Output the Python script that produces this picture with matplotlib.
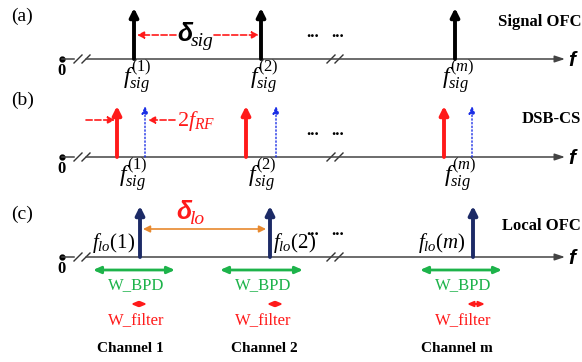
import numpy as np
import matplotlib.pyplot as plt

plt.rcParams['mathtext.fontset'] = 'custom'
plt.rcParams['mathtext.rm'] = 'Liberation Serif'
plt.rcParams['mathtext.it'] = 'Liberation Serif:italic'
plt.rcParams['mathtext.bf'] = 'Liberation Serif:bold'
plt.rcParams['font.family'] = 'Liberation Serif'

# comb line positions (pixel-like frequency axis), one per channel
channels = ['1', '2', 'm']
sig_lines = [134, 261, 455]          # (a) signal OFC
dsb_red = [117, 246, 444]            # (b) carrier-suppressed sidebands
dsb_blue = [145, 276, 472]
lo_lines = [140, 270, 473]           # (c) local OFC
bpd_span = [(93, 175), (220, 303), (420, 502)]
filt_span = [(131, 147), (267, 283), (467, 485)]
chan_centers = [130, 264, 457]

axis_y = [59, 157, 257]
top_y = [8, 106, 206]
panel_tags = ['(a)', '(b)', '(c)']
panel_tag_y = [16, 100, 214]
panel_names = ['Signal OFC', 'DSB-CS', 'Local OFC']
panel_name_y = [22, 119, 226]

NAVY = '#1c2a66'
RED = '#ff1a1a'
BLUE = '#1a2ee6'
GREEN = '#1db34a'
ORANGE = '#e8892e'

fig = plt.figure(figsize=(5.82, 3.62), dpi=100)
ax = fig.add_axes([0, 0, 1, 1])
ax.set_xlim(0, 582)
ax.set_ylim(362, 0)
ax.axis('off')


def up_arrow(x, y0, y1, color, lw, ls='-', hw=0.25, hl=0.5):
    ax.annotate('', xy=(x, y1), xytext=(x, y0),
                arrowprops=dict(arrowstyle='-|>,head_length=%g,head_width=%g' % (hl, hw),
                                color=color, lw=lw, ls=ls, shrinkA=0, shrinkB=0))


def h_arrow(x0, x1, y, color, lw=1.2, style='-|>', ls='-', hw=0.2, hl=0.4):
    ax.annotate('', xy=(x1, y), xytext=(x0, y),
                arrowprops=dict(arrowstyle='%s,head_length=%g,head_width=%g' % (style, hl, hw),
                                color=color, lw=lw, ls=ls, shrinkA=0, shrinkB=0))


for i, ay in enumerate(axis_y):
    # frequency axis with origin dot and break marks
    ax.plot([62], [ay], 'o', color='black', ms=3.5)
    ax.plot([62, 74], [ay, ay], color='#444444', lw=1.1)
    h_arrow(86, 565, ay, '#444444', lw=1.1, hw=0.2, hl=0.6)
    for bx in (78, 86):
        ax.plot([bx - 4, bx + 4], [ay + 4, ay - 4], color='#333333', lw=1.0)
    for bx in (331, 339):
        ax.plot([bx - 4, bx + 4], [ay + 4, ay - 4], color='#333333', lw=1.0)
    ax.text(62, ay + 12, '0', fontsize=12, fontweight='bold', ha='center', va='center')
    ax.text(568, ay + 1, 'f', fontsize=15, fontweight='bold', fontstyle='italic',
            family='Liberation Sans', ha='left', va='center')
    ax.text(11, panel_tag_y[i], panel_tags[i], fontsize=14, ha='left', va='center')
    ax.text(581, panel_name_y[i], panel_names[i], fontsize=12, fontweight='bold',
            ha='right', va='center')
    dy = axis_y[i] - 26
    ax.text(306, dy, '...', fontsize=12, fontweight='bold', ha='left', va='center')
    ax.text(331, dy, '...', fontsize=12, fontweight='bold', ha='left', va='center')

# (a) signal comb
for x, c in zip(sig_lines, channels):
    up_arrow(x, axis_y[0], top_y[0], 'black', 2.8)
    ax.text(x + 3, axis_y[0] + 18, r'$f_{sig}^{(%s)}$' % c, fontsize=17,
            ha='center', va='center')
h_arrow(176, 137, 35, RED, lw=1.2, ls='--')
h_arrow(214, 259, 35, RED, lw=1.2, ls='--')
ax.text(177, 34, 'δ', fontsize=18, family='Liberation Sans', fontweight='bold',
        fontstyle='italic', ha='left', va='center')
ax.text(191, 41, 'sig', fontsize=14, fontstyle='italic', ha='left', va='center')

# (b) DSB-CS
for xr, xb, c in zip(dsb_red, dsb_blue, channels):
    up_arrow(xr, axis_y[1], top_y[1], RED, 2.8)
    up_arrow(xb, axis_y[1], top_y[1], BLUE, 1.0, ls=':', hw=0.2, hl=0.45)
    ax.text(xr + 16, axis_y[1] + 18, r'$f_{sig}^{(%s)}$' % c, fontsize=17,
            ha='center', va='center')
h_arrow(86, 115, 120, RED, lw=1.2, ls='--')
h_arrow(175, 148, 120, RED, lw=1.2, ls='--')
ax.text(177, 121, r'$2f_{RF}$', fontsize=16, color=RED, ha='left', va='center')

# (c) local comb
for x in lo_lines:
    up_arrow(x, axis_y[2], top_y[2], NAVY, 2.8)
h_arrow(143, 266, 229, ORANGE, lw=1.2, style='<|-|>')
ax.text(176, 212, 'δ', fontsize=18, family='Liberation Sans', fontweight='bold',
        fontstyle='italic', color=RED, ha='left', va='center')
ax.text(190, 219, 'lo', fontsize=14, fontstyle='italic', color=RED, ha='left', va='center')
for x, c in zip([92, 273, 418], channels):
    ax.text(x, 243, r'$f_{lo}(%s)$' % c, fontsize=15, ha='left', va='center')

for (b0, b1), (f0, f1), cx, c in zip(bpd_span, filt_span, chan_centers, channels):
    h_arrow(b0, b1, 270, GREEN, lw=2.0, style='<|-|>', hw=0.2, hl=0.45)
    ax.text((b0 + b1) / 2 + 2, 285, 'W_BPD', fontsize=12, color=GREEN, ha='center', va='center')
    h_arrow(f0, f1, 304, RED, lw=1.5, style='<|-|>', hw=0.15, hl=0.35)
    ax.text((b0 + b1) / 2 + 2, 320, 'W_filter', fontsize=12, color=RED, ha='center', va='center')
    ax.text(cx, 349, 'Channel ' + c, fontsize=11, fontweight='bold', ha='center', va='center')

fig.savefig('out.png', dpi=100)
